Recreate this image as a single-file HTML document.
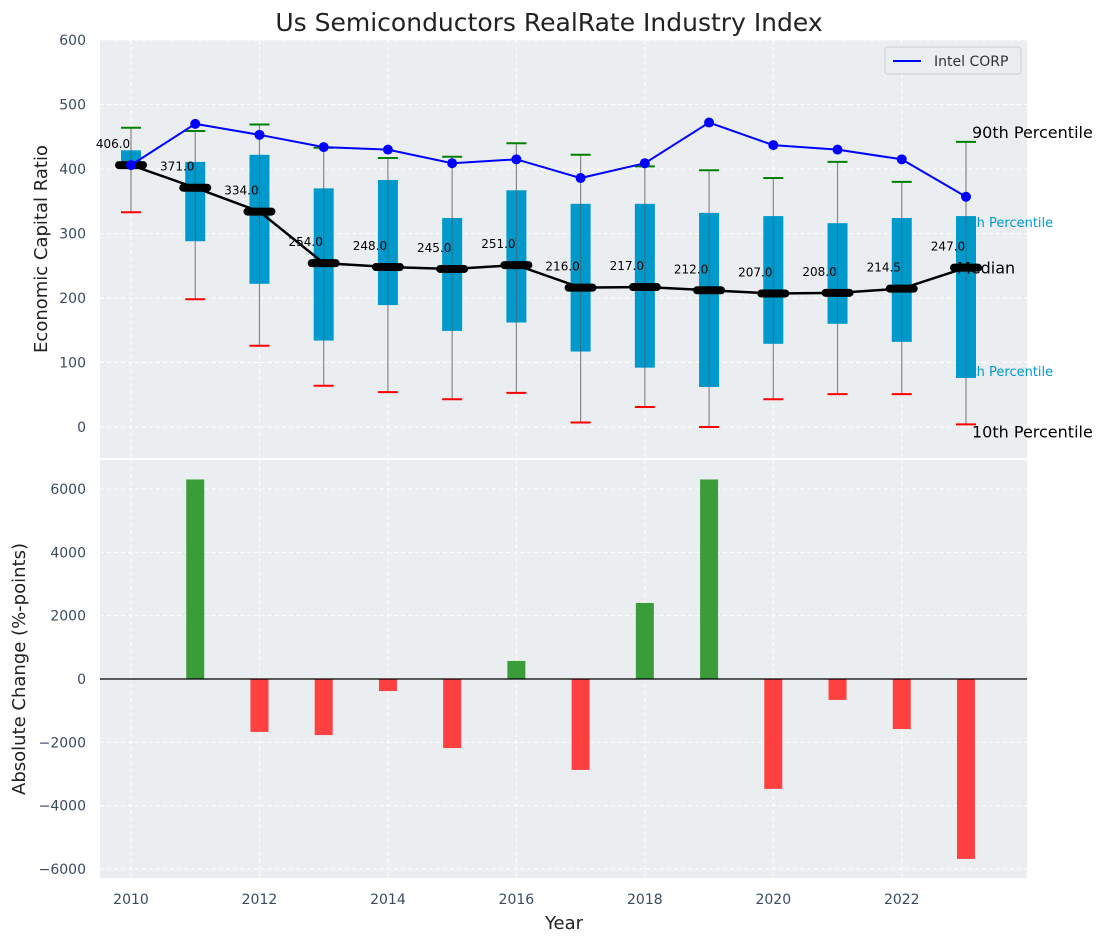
<!DOCTYPE html>
<html><head><meta charset="utf-8"><style>
body{margin:0;background:#fff;}
svg{display:block;font-family:"DejaVu Sans","Liberation Sans",sans-serif;}
</style></head><body>
<svg id="c" width="1107" height="942" viewBox="0 0 1107 942"></svg>
<script>
const years=[2010,2011,2012,2013,2014,2015,2016,2017,2018,2019,2020,2021,2022,2023];
const medians=[406,371,334,254,248,245,251,216,217,212,207,208,214.5,247];
const q75=[429,411,422,370,383,324,367,346,346,332,327,316,324,327];
const q25=[403,288,222,134,189,149,162,117,92,62,129,160,132,76];
const p90=[464,459,469,433,417,419,440,422,404,398,386,411,380,442];
const p10=[333,198,126,64,54,43,53,7,31,0,43,51,51,4];
const intel=[406,470,453,434,430,409,415,386,409,472,437,430,415,357];
const changes=[null,6300,-1670,-1770,-380,-2180,570,-2870,2400,6300,-3470,-660,-1580,-5680];
const topTicks=[0,100,200,300,400,500,600];
const botTicks=[-6000,-4000,-2000,0,2000,4000,6000];
const xTicks=[2010,2012,2014,2016,2018,2020,2022];

const svg=document.getElementById('c');
const NS='http://www.w3.org/2000/svg';
function mk(tag,at,parent){const e=document.createElementNS(NS,tag);for(const k in at)e.setAttribute(k,at[k]);(parent||svg).appendChild(e);return e;}
const L=100,R=1027,T1=40,B1=458,T2=460,B2=878;
const x=v=>131+(v-2010)*64.23;
const y1=v=>427-v*0.645;
const y2=v=>679-v*0.03167;

let e=mk('rect',{x:L,y:T1,width:R-L,height:B1-T1,fill:'#eaeef0'});

e=mk('rect',{x:L,y:T2,width:R-L,height:B2-T2,fill:'#eaeef0'});


topTicks.forEach(t=>{mk('line',{x1:L,x2:R,y1:y1(t),y2:y1(t),stroke:'#fff','stroke-dasharray':'4 3','stroke-width':1});
 e=mk('text',{x:86,y:y1(t)+5,'text-anchor':'end','font-size':14,fill:'#3b4a63'});e.textContent=t;
 });
botTicks.forEach(t=>{mk('line',{x1:L,x2:R,y1:y2(t),y2:y2(t),stroke:'#fff','stroke-dasharray':'4 3','stroke-width':1});
 e=mk('text',{x:86,y:y2(t)+5,'text-anchor':'end','font-size':14,fill:'#3b4a63'});e.textContent=(t<0?'\u2212'+(-t):t);
 });
xTicks.forEach(t=>{mk('line',{x1:x(t),x2:x(t),y1:T1,y2:B1,stroke:'#fff','stroke-dasharray':'4 3'});
 mk('line',{x1:x(t),x2:x(t),y1:T2,y2:B2,stroke:'#fff','stroke-dasharray':'4 3'});
 e=mk('text',{x:x(t),y:904,'text-anchor':'middle','font-size':14,fill:'#3b4a63'});e.textContent=t;
 });

function txt(s,xx,yy,size,col,name,anchor){const t=mk('text',{x:xx,y:yy,'font-size':size,fill:col,'text-anchor':anchor||'start'});t.textContent=s;
 return t;}
txt('75th Percentile',955,y1(q75[13])+11,13,'#0099cc','label-75th');
txt('25th Percentile',955,y1(q25[13])-2,13,'#0099cc','label-25th');

years.forEach((yr,i)=>{const cx=x(yr);
 e=mk('line',{x1:cx,x2:cx,y1:y1(p90[i]),y2:y1(p10[i]),stroke:'#888','stroke-width':1.2});
 
 e=mk('rect',{x:cx-10,y:y1(q75[i]),width:20,height:y1(q25[i])-y1(q75[i]),fill:'#0099cc'});
 
 mk('line',{x1:cx,x2:cx,y1:y1(q75[i]),y2:y1(q25[i]),stroke:'#555','stroke-width':1,opacity:0.6});
 e=mk('line',{x1:cx-10,x2:cx+10,y1:y1(p90[i]),y2:y1(p90[i]),stroke:'#008000','stroke-width':2});
 
 e=mk('line',{x1:cx-10,x2:cx+10,y1:y1(p10[i]),y2:y1(p10[i]),stroke:'#ff0000','stroke-width':2});
 
});
e=mk('polyline',{points:years.map((yr,i)=>x(yr)+','+y1(medians[i])).join(' '),fill:'none',stroke:'#000','stroke-width':2.5});

years.forEach((yr,i)=>{e=mk('line',{x1:x(yr)-12,x2:x(yr)+12,y1:y1(medians[i]),y2:y1(medians[i]),stroke:'#000','stroke-width':8,'stroke-linecap':'round'});
 
 txt(medians[i].toFixed(1),x(yr)-18,y1(medians[i])-17,12,'#000','median-value','middle');});
e=mk('polyline',{points:years.map((yr,i)=>x(yr)+','+y1(intel[i])).join(' '),fill:'none',stroke:'#0000ff','stroke-width':2});

years.forEach((yr,i)=>{e=mk('circle',{cx:x(yr),cy:y1(intel[i]),r:5,fill:'#0000ff'});
 });

txt('90th Percentile',972,y1(p90[13])-4,16,'#000','label-90th');
txt('Median',957,y1(medians[13])+6,16,'#000','label-median');
txt('10th Percentile',972,y1(p10[13])+13,16,'#000','label-10th');

e=mk('rect',{x:885,y:47,width:136,height:27,fill:'#eaeef0',stroke:'#ccc',rx:3});

mk('line',{x1:893,x2:921,y1:61,y2:61,stroke:'#0000ff','stroke-width':2});
txt('Intel CORP',934,66,14,'#333','legend-entry-intel');

changes.forEach((v,i)=>{if(v===null)return;const cx=x(years[i]);
 const a=y2(Math.max(v,0)),b=y2(Math.min(v,0));
 e=mk('rect',{x:cx-9,y:a,width:18,height:b-a,fill:v>=0?'#3a9d3a':'#ff4040'});
 });
e=mk('line',{x1:L,x2:R,y1:y2(0),y2:y2(0),stroke:'#000','stroke-width':1.2});


txt('Us Semiconductors RealRate Industry Index',549,31,25,'#222','chart-title','middle');
txt('Year',564,929,18,'#222','x-axis-title','middle');
e=txt('Economic Capital Ratio',47,249,18,'#222','y-axis-title','middle');e.setAttribute('transform','rotate(-90 47 249)');
e=txt('Absolute Change (%-points)',25,669,18,'#222','y2-axis-title','middle');e.setAttribute('transform','rotate(-90 25 669)');
</script>
</body></html>
